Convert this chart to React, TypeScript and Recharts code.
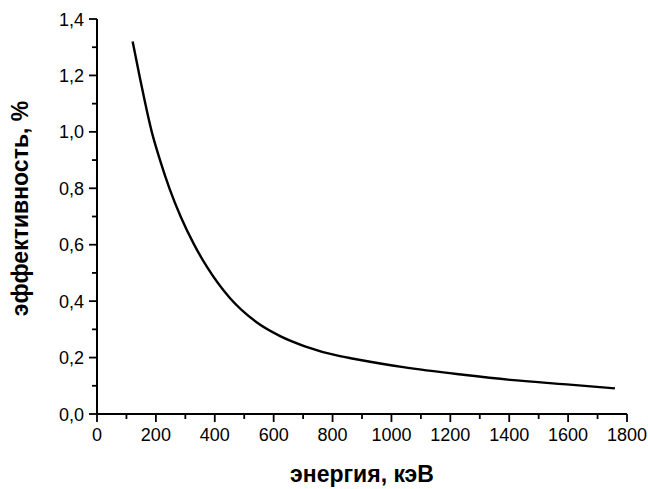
import { LineChart, Line, XAxis, YAxis, Label } from "recharts";

// энергия (кэВ) и эффективность (%)
const energy = [121, 146, 186, 214, 246, 284, 329, 373, 452, 542, 622, 706, 825, 871, 1040, 1244, 1403, 1595, 1759];
const efficiency = [1.32, 1.19, 1.0, 0.9, 0.8, 0.7, 0.602, 0.522, 0.41, 0.325, 0.276, 0.24, 0.205, 0.196, 0.166, 0.139, 0.121, 0.105, 0.091];

const xTicks = [0, 100, 200, 300, 400, 500, 600, 700, 800, 900, 1000, 1100, 1200, 1300, 1400, 1500, 1600, 1700, 1800];
const xMajor = [0, 200, 400, 600, 800, 1000, 1200, 1400, 1600, 1800];
const yTicks = [0, 0.1, 0.2, 0.3, 0.4, 0.5, 0.6, 0.7, 0.8, 0.9, 1.0, 1.1, 1.2, 1.3, 1.4];
const yMajor = [0, 0.2, 0.4, 0.6, 0.8, 1.0, 1.2, 1.4];

const data = energy.map((e, i) => ({ e, v: efficiency[i] }));

const FONT = "'Liberation Sans', Arial, sans-serif";

function XTick({ x, y, payload }: any) {
  const major = xMajor.includes(payload.value);
  return (
    <g>
      <line x1={x} x2={x} y1={y} y2={y + (major ? 8 : 5)} stroke="#000" strokeWidth={1.8} />
      {major && (
        <text x={x} y={y + 27} textAnchor="middle" fontFamily={FONT} fontSize={18} fill="#000">
          {payload.value}
        </text>
      )}
    </g>
  );
}

function YTick({ x, y, payload }: any) {
  const major = yMajor.some((m) => Math.abs(m - payload.value) < 1e-6);
  return (
    <g>
      <line x1={x - (major ? 8 : 5)} x2={x} y1={y} y2={y} stroke="#000" strokeWidth={1.8} />
      {major && (
        <text x={x - 13} y={y + 6.5} textAnchor="end" fontFamily={FONT} fontSize={18} fill="#000">
          {payload.value.toFixed(1).replace(".", ",")}
        </text>
      )}
    </g>
  );
}

export default function App() {
  return (
    <div style={{ position: "absolute", left: 0, top: 0, background: "#fff" }}>
      <LineChart width={648} height={489} data={data} margin={{ top: 19, right: 21, bottom: 0, left: 0 }}>
        <XAxis
          dataKey="e"
          type="number"
          domain={[0, 1800]}
          ticks={xTicks}
          interval={0}
          tickSize={0}
          tickMargin={0}
          height={75}
          tickLine={false}
          tick={<XTick />}
          axisLine={{ stroke: "#000", strokeWidth: 2 }}
        >
          <Label
            content={({ viewBox }: any) => (
              <text
                x={viewBox.x + viewBox.width / 2}
                y={viewBox.y + 68}
                textAnchor="middle"
                fontFamily={FONT}
                fontWeight="bold"
                fontSize={23}
                fill="#000"
              >
                энергия, кэВ
              </text>
            )}
          />
        </XAxis>
        <YAxis
          type="number"
          domain={[0, 1.4]}
          ticks={yTicks}
          interval={0}
          width={97}
          tickSize={0}
          tickMargin={0}
          tickLine={false}
          tick={<YTick />}
          axisLine={{ stroke: "#000", strokeWidth: 2 }}
        >
          <Label
            content={({ viewBox }: any) => {
              const cx = 28;
              const cy = viewBox.y + viewBox.height / 2 - 8;
              return (
                <text
                  x={cx}
                  y={cy}
                  transform={`rotate(-90 ${cx} ${cy})`}
                  textAnchor="middle"
                  fontFamily={FONT}
                  fontWeight="bold"
                  fontSize={23}
                  fill="#000"
                >
                  эффективность, %
                </text>
              );
            }}
          />
        </YAxis>
        <Line
          type="monotone"
          dataKey="v"
          stroke="#000"
          strokeWidth={2.4}
          dot={false}
          isAnimationActive={false}
        />
      </LineChart>
    </div>
  );
}
